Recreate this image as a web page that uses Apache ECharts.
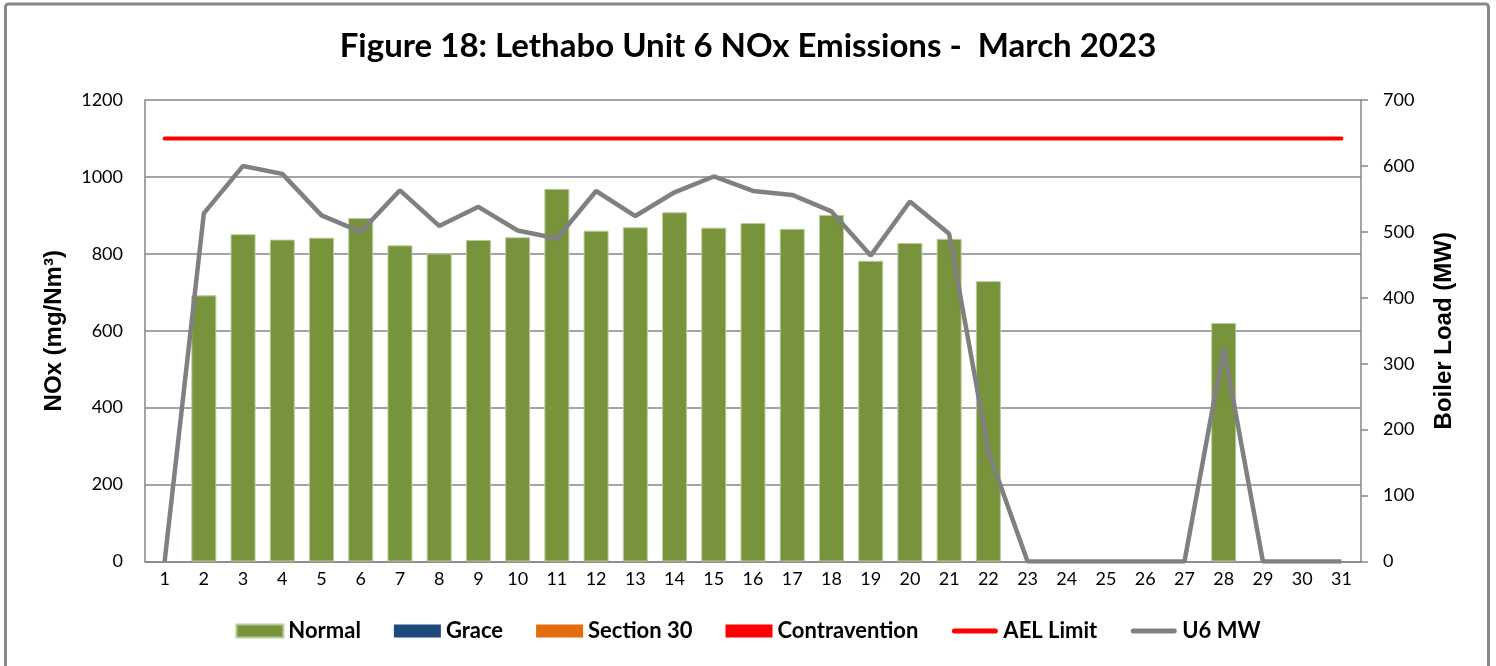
<!DOCTYPE html>
<html>
<head>
<meta charset="utf-8">
<script src="https://cdn.jsdelivr.net/npm/echarts@6/dist/echarts.min.js"></script>
<style>
  html, body { margin: 0; padding: 0; background: #fff; }
  #chart { width: 1496px; height: 666px; }
</style>
</head>
<body>
<div id="chart"></div>
<script>
// days of March 2023
const days = ['1','2','3','4','5','6','7','8','9','10','11','12','13','14','15','16','17','18','19','20','21','22','23','24','25','26','27','28','29','30','31'];

// NOx (mg/Nm3), normal operation
const normal = [null, 692, 851, 837, 842, 893, 822, 801, 836, 843, 969, 860, 869, 908, 868, 880, 865, 901, 782, 828, 839, 729, null, null, null, null, null, 620, null, null, null];
const grace = days.map(() => null);
const section30 = days.map(() => null);
const contravention = days.map(() => null);

// AEL limit
const aelLimit = days.map(() => 1100);

// boiler load (MW)
const u6MW = [0, 528, 600, 588, 525, 500, 563, 509, 538, 502, 490, 562, 524, 560, 584, 562, 556, 531, 464, 546, 497, 167, 0, 0, 0, 0, 0, 324, 0, 0, 0];

const chart = echarts.init(document.getElementById('chart'));

const tickFont = { fontFamily: 'Lato', fontSize: 18, color: '#000' };
// rounded bar for the line entries in the legend (dots stretch the box to 47x13)
const lineIcon = 'path://M0,0L0.01,0L0,0.01Z M3,4L44,4A2.5,2.5 0 0 1 44,9L3,9A2.5,2.5 0 0 1 3,4Z M47,13L46.99,13L47,12.99Z';

chart.setOption({
    animation: false,
    backgroundColor: '#fff',
    title: {
        text: 'Figure 18: Lethabo Unit 6 NOx Emissions -  March 2023',
        left: 'center',
        top: 25,
        textStyle: { fontFamily: 'Lato', fontWeight: 'bold', fontSize: 33, color: '#000' }
    },
    graphic: [{
        type: 'rect',
        shape: { x: 5.5, y: 4, width: 1483, height: 700, r: 3 },
        style: { fill: null, stroke: '#888', lineWidth: 3 },
        silent: true
    }],
    legend: {
        bottom: 19,
        left: 'center',
        itemWidth: 47,
        itemHeight: 13,
        itemGap: 33,
        textStyle: { fontFamily: 'Lato', fontWeight: 'bold', fontSize: 22, color: '#000' },
        data: [
            { name: 'Normal', icon: 'rect' },
            { name: 'Grace', icon: 'rect' },
            { name: 'Section 30', icon: 'rect' },
            { name: 'Contravention', icon: 'rect' },
            { name: 'AEL Limit', icon: lineIcon },
            { name: 'U6 MW', icon: lineIcon }]
    },
    grid: { left: 145, right: 135, top: 100, bottom: 104.5 },
    xAxis: {
        type: 'category',
        data: days,
        boundaryGap: true,
        axisLine: { lineStyle: { color: '#868686', width: 1.5 } },
        axisTick: { alignWithLabel: true, length: 6, lineStyle: { color: '#868686', width: 1.5 } },
        axisLabel: Object.assign({ margin: 9, interval: 0 }, tickFont),
        splitLine: { show: false }
    },
    yAxis: [{
        type: 'value',
        min: 0, max: 1200, interval: 200,
        name: 'NOx (mg/Nm³)',
        nameLocation: 'middle',
        nameGap: 79,
        nameTextStyle: { fontFamily: 'Liberation Sans', fontWeight: 'bold', fontSize: 24, color: '#000' },
        axisLine: { show: true, lineStyle: { color: '#868686', width: 1.5 } },
        axisTick: { show: false },
        axisLabel: Object.assign({ margin: 22, formatter: v => String(v) }, tickFont),
        splitLine: { lineStyle: { color: '#868686', width: 1.5 } }
    }, {
        type: 'value',
        min: 0, max: 700, interval: 100,
        name: 'Boiler Load (MW)',
        nameLocation: 'middle',
        nameGap: 71,
        nameTextStyle: { fontFamily: 'Liberation Sans', fontWeight: 'bold', fontSize: 24, color: '#000' },
        axisLine: { show: true, lineStyle: { color: '#868686', width: 1.5 } },
        axisTick: { show: true, inside: false, length: 7, lineStyle: { color: '#868686', width: 1.5 } },
        axisLabel: Object.assign({ margin: 22, formatter: v => String(v) }, tickFont),
        splitLine: { show: false }
    }],
    series: [
        { name: 'Normal', type: 'bar', stack: 'nox', barWidth: 25, data: normal,
          itemStyle: { color: '#77933C', borderColor: '#B9CC98', borderWidth: 1 } },
        { name: 'Grace', type: 'bar', stack: 'nox', data: grace, itemStyle: { color: '#1F497D' } },
        { name: 'Section 30', type: 'bar', stack: 'nox', data: section30, itemStyle: { color: '#E46C0A' } },
        { name: 'Contravention', type: 'bar', stack: 'nox', data: contravention, itemStyle: { color: '#FF0000' } },
        { name: 'AEL Limit', type: 'line', data: aelLimit, symbol: 'none',
          lineStyle: { color: '#FF0000', width: 4, cap: 'round' }, itemStyle: { color: '#FF0000' } },
        { name: 'U6 MW', type: 'line', yAxisIndex: 1, data: u6MW, symbol: 'none',
          lineStyle: { color: '#808080', width: 4.5 }, itemStyle: { color: '#808080' } }
    ]
});
</script>
</body>
</html>
